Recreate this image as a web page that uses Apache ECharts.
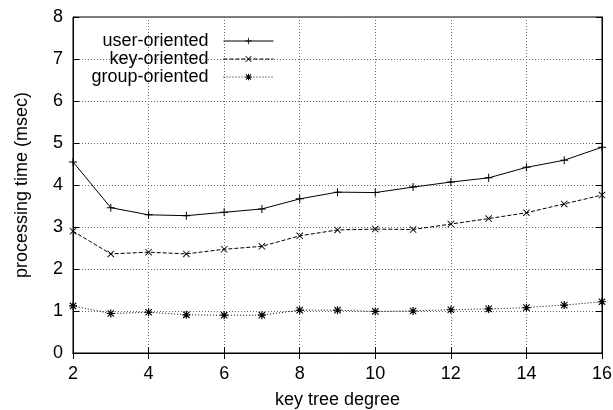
<!DOCTYPE html>
<html><head><meta charset="utf-8">
<script src="https://cdn.jsdelivr.net/npm/echarts@6/dist/echarts.min.js"></script>
<style>html,body{margin:0;padding:0;background:#fff}#c{width:613px;height:410px}</style>
</head><body><div id="c"></div>
<script>
const degrees = [2,3,4,5,6,7,8,9,10,11,12,13,14,15,16];
const userOriented  = [4.55,3.46,3.29,3.27,3.35,3.43,3.67,3.83,3.82,3.95,4.07,4.17,4.42,4.59,4.90];
const keyOriented   = [2.90,2.36,2.40,2.36,2.47,2.54,2.79,2.93,2.95,2.94,3.07,3.20,3.34,3.55,3.76];
const groupOriented = [1.12,0.94,0.97,0.91,0.90,0.90,1.02,1.02,0.99,1.00,1.03,1.05,1.08,1.14,1.22];
const seriesNames = ['user-oriented','key-oriented','group-oriented'];
const xTitle = 'key tree degree';
const yTitle = 'processing time (msec)';

const FONT = 'Liberation Sans, Arial, Helvetica, sans-serif';
const FS = 18;
const plusPath = 'path://M-0.5,-4L0.5,-4L0.5,-0.5L4,-0.5L4,0.5L0.5,0.5L0.5,4L-0.5,4L-0.5,0.5L-4,0.5L-4,-0.5L-0.5,-0.5Z';
const xPath = 'path://M-4,-3.3L-3.3,-4L4,3.3L3.3,4Z M3.3,-4L4,-3.3L-3.3,4L-4,3.3Z';
const starPath = 'path://M-0.6,-4L0.6,-4L0.6,-0.6L4,-0.6L4,0.6L0.6,0.6L0.6,4L-0.6,4L-0.6,0.6L-4,0.6L-4,-0.6L-0.6,-0.6Z M-3.6,-2.8L-2.8,-3.6L3.6,2.8L2.8,3.6Z M2.8,-3.6L3.6,-2.8L-2.8,3.6L-3.6,2.8Z';

function pairs(arr){ return degrees.map((d,i)=>[d,arr[i]]); }

const grid = {left:73, right:11, top:17, bottom:57, show:true, borderColor:'#000', borderWidth:1,
  containLabel:false, outerBoundsMode:'none'};
const split = {show:true, lineStyle:{color:'#666', type:[1,2], width:1}};
const chart = echarts.init(document.getElementById('c'), null, {renderer:'canvas'});
const legendBase = (name, top) => ({
  data:[name], right:339, top:top, orient:'vertical', align:'right',
  itemWidth:50, itemHeight:8, padding:0,
  formatter: n => n + '  ',
  lineStyle:{width:1},
  textStyle:{fontFamily:FONT, fontSize:FS, color:'#000'}
});
chart.setOption({
  animation:false,
  backgroundColor:'#fff',
  grid: grid,
  legend:[legendBase(seriesNames[0],32), legendBase(seriesNames[1],50), legendBase(seriesNames[2],68)],
  xAxis:[{
    type:'value', min:2, max:16, interval:2, position:'bottom',
    name:xTitle, nameLocation:'middle', nameGap:38,
    nameTextStyle:{fontFamily:FONT, fontSize:FS, color:'#000'},
    axisLine:{show:true, lineStyle:{color:'#000'}},
    axisTick:{show:true, inside:true, length:6, lineStyle:{color:'#000'}},
    axisLabel:{fontFamily:FONT, fontSize:FS, color:'#000', margin:12},
    splitLine:split
  },{
    type:'value', min:2, max:16, interval:2, position:'top',
    axisLine:{show:true, lineStyle:{color:'#000'}},
    axisTick:{show:true, inside:true, length:6, lineStyle:{color:'#000'}},
    axisLabel:{show:false}, splitLine:{show:false}
  }],
  yAxis:[{
    type:'value', min:0, max:8, interval:1, position:'left',
    name:yTitle, nameLocation:'middle', nameGap:42,
    nameTextStyle:{fontFamily:FONT, fontSize:FS, color:'#000'},
    axisLine:{show:true, lineStyle:{color:'#000'}},
    axisTick:{show:true, inside:true, length:6, lineStyle:{color:'#000'}},
    axisLabel:{fontFamily:FONT, fontSize:FS, color:'#000', margin:10},
    splitLine:split
  },{
    type:'value', min:0, max:8, interval:1, position:'right',
    axisLine:{show:true, lineStyle:{color:'#000'}},
    axisTick:{show:true, inside:true, length:6, lineStyle:{color:'#000'}},
    axisLabel:{show:false}, splitLine:{show:false}
  }],
  series:[{
    name:seriesNames[0], type:'line', data:pairs(userOriented),
    symbol:plusPath, symbolSize:8, showSymbol:true,
    lineStyle:{color:'#000', width:1, type:'solid'},
    itemStyle:{color:'#000'}
  },{
    name:seriesNames[1], type:'line', data:pairs(keyOriented),
    symbol:xPath, symbolSize:7,
    lineStyle:{color:'#000', width:1, type:[4,2]},
    itemStyle:{color:'#000'}
  },{
    name:seriesNames[2], type:'line', data:pairs(groupOriented),
    symbol:starPath, symbolSize:8,
    lineStyle:{color:'#000', width:1, type:[1,2]},
    itemStyle:{color:'#000'}
  }]
});
</script></body></html>
